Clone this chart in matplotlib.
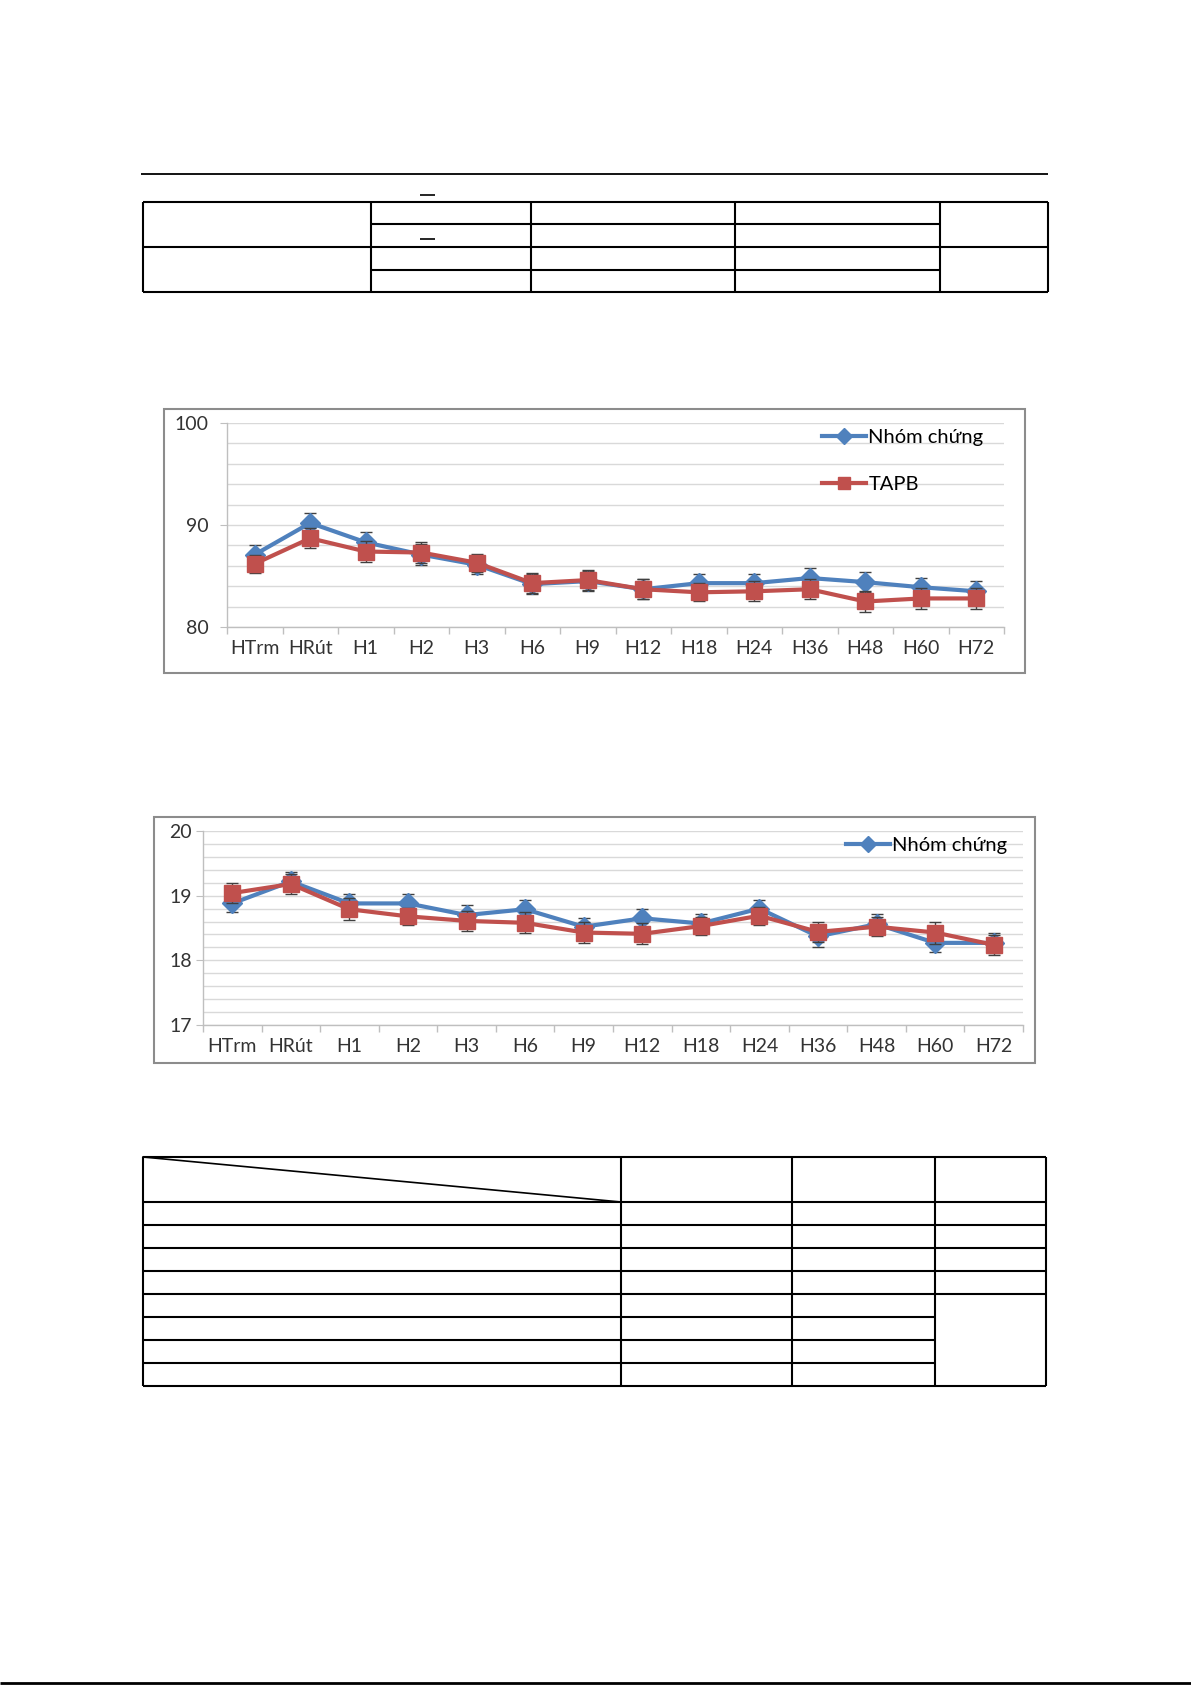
import matplotlib
matplotlib.use("Agg")
import matplotlib.pyplot as plt
from matplotlib.patches import Rectangle
from matplotlib.lines import Line2D

plt.rcParams['font.family'] = ['Lato', 'DejaVu Sans']

W, H = 1191, 1685

# time points
labels = ["HTrm", "HRút", "H1", "H2", "H3", "H6", "H9", "H12", "H18", "H24", "H36", "H48", "H60", "H72"]

# chart 1
c1_ctrl = [87.1, 90.2, 88.3, 87.1, 86.1, 84.2, 84.5, 83.7, 84.3, 84.3, 84.8, 84.4, 83.9, 83.5]
c1_tapb = [86.2, 88.7, 87.4, 87.3, 86.3, 84.3, 84.6, 83.7, 83.4, 83.5, 83.7, 82.5, 82.8, 82.8]
c1_ctrl_err = [0.9, 1.0, 1.0, 1.0, 0.9, 1.0, 1.0, 1.0, 0.9, 0.9, 1.0, 1.0, 0.9, 1.0]
c1_tapb_err = [0.9, 1.0, 1.0, 1.0, 0.9, 1.0, 1.0, 1.0, 0.9, 1.0, 1.0, 1.0, 1.0, 1.0]

# chart 2
c2_ctrl = [18.88, 19.22, 18.88, 18.88, 18.70, 18.79, 18.52, 18.65, 18.57, 18.80, 18.37, 18.56, 18.27, 18.27]
c2_tapb = [19.04, 19.18, 18.79, 18.68, 18.61, 18.58, 18.43, 18.41, 18.53, 18.69, 18.44, 18.52, 18.43, 18.24]
c2_ctrl_err = [0.13, 0.15, 0.14, 0.14, 0.16, 0.14, 0.14, 0.14, 0.15, 0.13, 0.16, 0.16, 0.14, 0.15]
c2_tapb_err = [0.16, 0.16, 0.17, 0.13, 0.16, 0.16, 0.16, 0.16, 0.14, 0.14, 0.16, 0.15, 0.17, 0.15]

BLUE = "#4F81BD"
RED = "#C0504D"


def px_axes(fig, x0, y0, x1, y1):
    # pixel box (top-left origin) -> figure fraction
    return fig.add_axes([x0 / W, 1 - y1 / H, (x1 - x0) / W, (y1 - y0) / H])


def draw_chart(ax, ctrl, tapb, ctrl_err, tapb_err, ylim, major, minor, ypad):
    x = list(range(len(labels)))
    ax.errorbar(x, ctrl, yerr=ctrl_err, color=BLUE, lw=3, marker="D", ms=10,
                ecolor="#404040", elinewidth=1, capsize=4, capthick=1, zorder=3)
    ax.errorbar(x, tapb, yerr=tapb_err, color=RED, lw=3, marker="s", ms=12,
                ecolor="#404040", elinewidth=1, capsize=4, capthick=1, zorder=4)
    ax.set_xlim(-0.5, len(labels) - 0.5)
    ax.set_ylim(*ylim)
    ax.set_xticks(x)
    ax.set_xticklabels(labels)
    ax.set_xticks([i - 0.5 for i in range(len(labels) + 1)], minor=True)
    ax.tick_params(axis="x", which="major", length=0, pad=9, labelsize=14)
    ax.tick_params(axis="x", which="minor", length=5, color="#bfbfbf", width=1)
    yt = []
    v = ylim[0]
    while v <= ylim[1] + 1e-9:
        yt.append(round(v, 2))
        v += major
    ax.set_yticks(yt)
    ax.set_yticklabels(["%g" % t for t in yt])
    gl = []
    v = ylim[0]
    while v <= ylim[1] + 1e-9:
        gl.append(round(v, 2))
        v += minor
    ax.set_yticks(gl, minor=True)
    ax.tick_params(axis="y", which="major", length=5, pad=ypad, labelsize=14, color="#bfbfbf")
    ax.tick_params(axis="y", which="minor", length=0)
    ax.grid(axis="y", which="both", color="#d9d9d9", lw=1)
    ax.set_axisbelow(True)
    for s in ["top", "right"]:
        ax.spines[s].set_visible(False)
    for s in ["left", "bottom"]:
        ax.spines[s].set_color("#bfbfbf")
        ax.spines[s].set_linewidth(1)
    for lab in ax.get_xticklabels() + ax.get_yticklabels():
        lab.set_color("#333333")


fig = plt.figure(figsize=(W / 100, H / 100), dpi=100)

# page overlay for rules, tables and chart frames
page = fig.add_axes([0, 0, 1, 1])
page.set_xlim(0, W)
page.set_ylim(H, 0)
page.axis("off")


def hline(y, x0, x1, lw=1.5):
    page.plot([x0, x1], [y, y], color="black", lw=lw, solid_capstyle="butt")


def vline(x, y0, y1, lw=1.5):
    page.plot([x, x], [y0, y1], color="black", lw=lw, solid_capstyle="butt")


# header rule
hline(174, 141, 1048, lw=1.3)
# overbars of stripped symbols
hline(195, 420, 435, lw=1.2)
hline(239, 420, 435, lw=1.2)

# table 1
t1_cols = [143, 371, 531, 735, 940, 1048]
t1_rows = [202, 224, 247, 270, 292]
hline(t1_rows[0], t1_cols[0], t1_cols[-1])
hline(t1_rows[2], t1_cols[0], t1_cols[-1])
hline(t1_rows[-1], t1_cols[0], t1_cols[-1])
hline(t1_rows[1], t1_cols[1], t1_cols[4])
hline(t1_rows[3], t1_cols[1], t1_cols[4])
for c in t1_cols:
    vline(c, t1_rows[0], t1_rows[-1])

# table 2
t2_cols = [143, 621, 792, 935, 1046]
t2_rows = [1157, 1202, 1225, 1248, 1271, 1294, 1317, 1340, 1363, 1386]
for i, r in enumerate(t2_rows):
    if i in (6, 7, 8):
        hline(r, t2_cols[0], t2_cols[3])
    else:
        hline(r, t2_cols[0], t2_cols[-1])
for c in t2_cols:
    vline(c, t2_rows[0], t2_rows[-1])
page.plot([t2_cols[0], t2_cols[1]], [t2_rows[0], t2_rows[1]], color="black", lw=1.2)

# chart frames
page.add_patch(Rectangle((164, 409), 1025 - 164, 673 - 409, fill=False, ec="#8c8c8c", lw=1.5))
page.add_patch(Rectangle((154, 817), 1035 - 154, 1063 - 817, fill=False, ec="#8c8c8c", lw=1.5))

# page bottom rule
hline(1683, 0, W, lw=2)

# legend handles: line + marker only, as in the source
h_ctrl = Line2D([], [], color=BLUE, lw=3, marker="D", ms=8)
h_tapb = Line2D([], [], color=RED, lw=3, marker="s", ms=9)

# chart 1
ax1 = px_axes(fig, 227, 423, 1004, 627)
draw_chart(ax1, c1_ctrl, c1_tapb, c1_ctrl_err, c1_tapb_err, (80, 100), 10, 2, 8)
ax1.legend([h_ctrl, h_tapb], ["Nhóm chứng", "TAPB"], loc="upper left",
           bbox_to_anchor=(822 / W, 1 - 429 / H), bbox_transform=fig.transFigure,
           frameon=False, fontsize=14.5, handlelength=2.2, handletextpad=0.1, labelspacing=1.5,
           borderpad=0, borderaxespad=0)

# chart 2
ax2 = px_axes(fig, 203, 831, 1023, 1025)
draw_chart(ax2, c2_ctrl, c2_tapb, c2_ctrl_err, c2_tapb_err, (17, 20), 1, 0.2, 3)
ax2.legend([h_ctrl], ["Nhóm chứng"], loc="upper left", bbox_to_anchor=(846 / W, 1 - 837 / H),
           bbox_transform=fig.transFigure, frameon=False, fontsize=14.5, handlelength=2.2,
           handletextpad=0.1, borderpad=0, borderaxespad=0)

fig.savefig("out.png", dpi=100, facecolor="white")
